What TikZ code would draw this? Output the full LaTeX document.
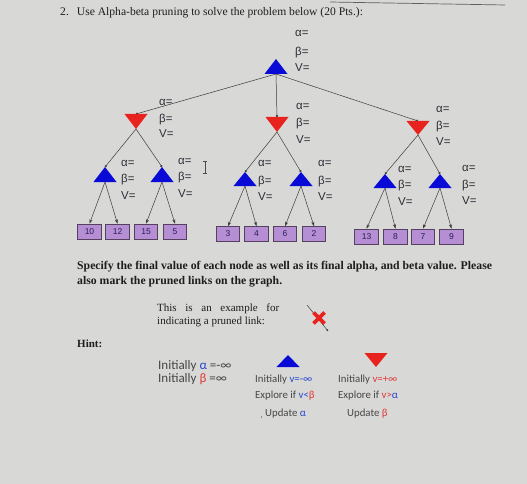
\documentclass[tikz,border=0pt]{standalone}
\usepackage{fontspec}
\setmainfont{Liberation Serif}
\newfontfamily\labfont{Liberation Sans}
\newfontfamily\hintfont{Carlito}
\usetikzlibrary{arrows.meta}
\definecolor{bg}{RGB}{216,216,214}
\definecolor{txt}{RGB}{30,30,30}
\definecolor{labgray}{RGB}{45,45,55}
\definecolor{edgegray}{RGB}{60,60,60}
\definecolor{maxblue}{RGB}{10,10,215}
\definecolor{minred}{RGB}{232,35,30}
\definecolor{leaffill}{RGB}{182,142,212}
\definecolor{leafborder}{RGB}{85,65,95}
\definecolor{leaftext}{RGB}{40,30,90}
\definecolor{alblue}{RGB}{40,70,210}
\definecolor{bered}{RGB}{225,55,55}
\definecolor{hintgray}{RGB}{70,70,70}
\tikzset{
  lab/.style={font=\labfont\fontsize{11.5}{13}\selectfont, text=labgray, anchor=base west, inner sep=0pt},
  edge/.style={draw=edgegray, line width=0.5pt},
  dotend/.style={edge, -{Circle[length=2.2pt]}},
  arr/.style={edge, -{Stealth[length=4.5pt,width=3pt]}},
  leaf/.style={draw=leafborder, fill=leaffill, minimum width=23.5pt, minimum height=15pt, inner sep=0pt,
    font=\labfont\fontsize{8.5}{9}\selectfont, text=leaftext, line width=0.6pt},
  serif/.style={anchor=base west, inner sep=0pt, text=txt},
  hint/.style={anchor=base west, inner sep=0pt, text=hintgray},
  bighint/.style={hint, font=\hintfont\fontsize{13}{15}\selectfont},
  smallhint/.style={hint, font=\hintfont\fontsize{10.8}{12}\selectfont}
}
\newcommand\defnode[4]{\coordinate (#1-t) at (#2,#3); \coordinate (#1-b) at (#2,#4);}
\newcommand\drawmax[1]{\fill[maxblue] ([xshift=-11.5pt]#1-b) -- (#1-t) -- ([xshift=11.5pt]#1-b) -- cycle;}
\newcommand\drawmin[1]{\fill[minred] ([xshift=-11.5pt]#1-t) -- (#1-b) -- ([xshift=11.5pt]#1-t) -- cycle;}
\newcommand\abv[5]{%
  \node[lab] (#1-a) at (#2,#3) {α=};
  \node[lab] (#1-be) at (#2,#4) {β=};
  \node[lab] (#1-v) at (#2,#5) {V=};}
\begin{document}
\begin{tikzpicture}[x=1pt,y=-1pt]
\useasboundingbox (0,0) rectangle (527,484);
\fill[bg] (0,0) rectangle (527,484);
\draw[gray!75!black, line width=0.7pt] (330,2) -- (505,5);

% title
\node[serif, font=\fontsize{11.6}{13}\selectfont] (title) at (60,16) {2.\hspace{8pt}Use Alpha-beta pruning to solve the problem below (20 Pts.):};

% node coordinates
\defnode{root}{276}{59}{74}
\defnode{mL}{136}{114}{129}
\defnode{mM}{277}{117}{132}
\defnode{mR}{418}{121}{135}
\defnode{LL}{105}{167}{182}
\defnode{LR}{162}{167}{182}
\defnode{ML}{245}{172}{186}
\defnode{MR}{301}{172}{186}
\defnode{RL}{385}{174}{188}
\defnode{RR}{440}{174}{188}

% leaves
\node[leaf] (l10) at (89.5,231.5) {10};
\node[leaf] (l12) at (117.5,231.5) {12};
\node[leaf] (l15) at (146,231.5) {15};
\node[leaf] (l5) at (175,231.5) {5};
\node[leaf] (l3) at (228,234) {3};
\node[leaf] (l4) at (256.5,234) {4};
\node[leaf] (l6) at (285,234) {6};
\node[leaf] (l2) at (314,234) {2};
\node[leaf] (l13) at (366.5,236.5) {13};
\node[leaf] (l8) at (395.5,236.5) {8};
\node[leaf] (l7) at (423,236.5) {7};
\node[leaf] (l9) at (451.5,236.5) {9};

% edges
\draw[dotend] (root-b) -- (mL-t);
\draw[dotend] (root-b) -- (mM-t);
\draw[dotend] (root-b) -- (mR-t);
\draw[dotend] (mL-b) -- (LL-t);
\draw[dotend] (mL-b) -- (LR-t);
\draw[dotend] (mM-b) -- (ML-t);
\draw[dotend] (mM-b) -- (MR-t);
\draw[dotend] (mR-b) -- (RL-t);
\draw[dotend] (mR-b) -- (RR-t);
\draw[arr] (LL-b) -- (l10.north);
\draw[arr] (LL-b) -- (l12.north);
\draw[arr] (LR-b) -- (l15.north);
\draw[arr] (LR-b) -- (l5.north);
\draw[arr] (ML-b) -- (l3.north);
\draw[arr] (ML-b) -- (l4.north);
\draw[arr] (MR-b) -- (l6.north);
\draw[arr] (MR-b) -- (l2.north);
\draw[arr] (RL-b) -- (l13.north);
\draw[arr] (RL-b) -- (l8.north);
\draw[arr] (RR-b) -- (l7.north);
\draw[arr] (RR-b) -- (l9.north);

% triangles
\drawmax{root}
\drawmin{mL}\drawmin{mM}\drawmin{mR}
\drawmax{LL}\drawmax{LR}\drawmax{ML}\drawmax{MR}\drawmax{RL}\drawmax{RR}

% labels
\abv{rootlab}{295}{37}{56}{72}
\abv{mLlab}{159}{106}{122}{138}
\abv{mMlab}{296}{110}{126}{143}
\abv{mRlab}{436}{113}{129}{146}
\abv{LLlab}{121}{166}{182}{199}
\abv{LRlab}{178}{164}{180}{197}
\abv{MLlab}{258}{166}{184}{200}
\abv{MRlab}{318}{166}{184}{200}
\abv{RLlab}{398}{172}{188}{205}
\abv{RRlab}{462}{171}{188}{204}

% text cursor
\draw[gray!60!black, line width=0.5pt] (203,161) -- (207,161) (205,161) -- (205,173) (203,173) -- (207,173);

% instructions
\node[serif, font=\bfseries\fontsize{11.75}{13}\selectfont] (spec1) at (77,269) {Specify the final value of each node as well as its final alpha, and beta value. Please};
\node[serif, font=\bfseries\fontsize{11.75}{13}\selectfont] (spec2) at (77,284) {also mark the pruned links on the graph.};
\node[serif, font=\fontsize{11}{12}\selectfont] (ex1) at (157,311) {\makebox[122pt][s]{This is an example for}};
\node[serif, font=\fontsize{11}{12}\selectfont] (ex2) at (157,324) {indicating a pruned link:};
\coordinate (exa) at (307,305);
\coordinate (exb) at (328,331);
\draw[edge, -{Circle[length=2pt]}] (exa) -- (exb);
\draw[minred, line width=3.8pt] (313.5,312.5) -- (324.5,323.5) (313.5,323.5) -- (324.5,312.5);
\node[serif, font=\bfseries\fontsize{11}{12}\selectfont] (hintlab) at (77,347) {Hint:};

% hints
\node[bighint] (h1) at (158,369) {Initially \textcolor{alblue}{α} =-∞};
\node[bighint] (h2) at (158,382) {Initially \textcolor{bered}{β} =∞};
\defnode{legmax}{288}{355}{367}
\defnode{legmin}{376}{353}{367}
\drawmax{legmax}
\drawmin{legmin}
\node[smallhint] (h3) at (255,382) {Initially \textcolor{alblue}{v=-∞}};
\node[smallhint] (h4) at (255,398) {Explore if \textcolor{alblue}{v<}\textcolor{bered}{β}};
\node[smallhint] (h5) at (265,416) {Update \textcolor{alblue}{α}};
\fill[hintgray] (261.5,417) circle (0.6);
\node[smallhint] (h6) at (338,382) {Initially \textcolor{bered}{v=+∞}};
\node[smallhint] (h7) at (338,398) {Explore if \textcolor{bered}{v>}\textcolor{alblue}{α}};
\node[smallhint] (h8) at (347,416) {Update \textcolor{bered}{β}};
\end{tikzpicture}
\end{document}
